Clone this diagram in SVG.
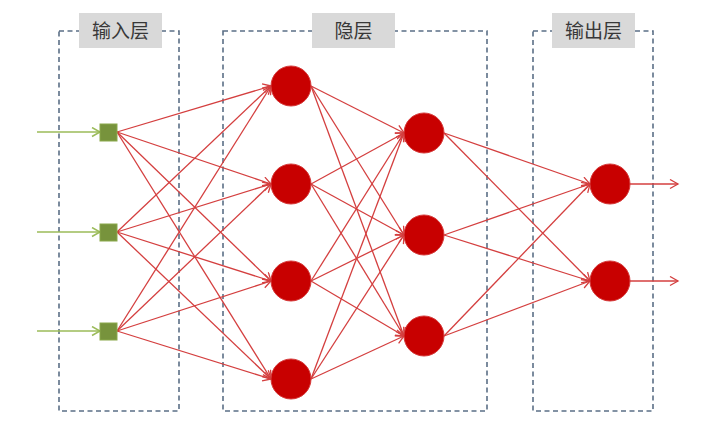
<svg xmlns="http://www.w3.org/2000/svg" width="720" height="429" viewBox="0 0 720 429">
<defs>
<style>
.box{fill:none;stroke:#5b6f86;stroke-width:1.6;stroke-dasharray:5 3.5}
.lbl{fill:#d9d9d9}
.lt{font-family:"Liberation Sans","Noto Sans CJK SC",sans-serif;font-size:19px;fill:#383838;text-anchor:middle}
.e{stroke:#d43f3f;stroke-width:1.3;fill:none;marker-end:url(#ar)}
.g{stroke:#9bbb59;stroke-width:1.5;fill:none;marker-end:url(#ag)}
.n{fill:#c80000;stroke:#d63a3a;stroke-width:1}
.sq{fill:#77933c;stroke:#8aa84a;stroke-width:1}
</style>
<marker id="ar" markerWidth="12" markerHeight="12" refX="9" refY="5" orient="auto" markerUnits="userSpaceOnUse">
<path d="M1,0.5 L9,5 L1,9.5" fill="none" stroke="#d43f3f" stroke-width="1.3"/>
</marker>
<marker id="ag" markerWidth="12" markerHeight="12" refX="9" refY="5" orient="auto" markerUnits="userSpaceOnUse">
<path d="M1,0.5 L9,5 L1,9.5" fill="none" stroke="#9bbb59" stroke-width="1.5"/>
</marker>
</defs>
<rect width="720" height="429" fill="#fff"/>
<g id="layer-boxes">
<rect class="box" x="59" y="31" width="120" height="380"/>
<rect class="box" x="223" y="31" width="264" height="380"/>
<rect class="box" x="533" y="31" width="120" height="380"/>
</g>
<g id="label-input"><rect class="lbl" x="79" y="13" width="83" height="35"/><text class="lt" x="120.5" y="37.5">输入层</text></g>
<g id="label-hidden"><rect class="lbl" x="312" y="13" width="83" height="35"/><text class="lt" x="353.5" y="37.5">隐层</text></g>
<g id="label-output"><rect class="lbl" x="552" y="13" width="83" height="35"/><text class="lt" x="593.5" y="37.5">输出层</text></g>
<g id="connectors">
<line class="g" x1="37" y1="132" x2="100" y2="132"/>
<line class="g" x1="37" y1="232" x2="100" y2="232"/>
<line class="g" x1="37" y1="331" x2="100" y2="331"/>
<line class="e" x1="117" y1="132" x2="271" y2="86"/>
<line class="e" x1="117" y1="132" x2="271" y2="184"/>
<line class="e" x1="117" y1="132" x2="271" y2="281"/>
<line class="e" x1="117" y1="132" x2="271" y2="379"/>
<line class="e" x1="117" y1="232" x2="271" y2="86"/>
<line class="e" x1="117" y1="232" x2="271" y2="184"/>
<line class="e" x1="117" y1="232" x2="271" y2="281"/>
<line class="e" x1="117" y1="232" x2="271" y2="379"/>
<line class="e" x1="117" y1="331" x2="271" y2="86"/>
<line class="e" x1="117" y1="331" x2="271" y2="184"/>
<line class="e" x1="117" y1="331" x2="271" y2="281"/>
<line class="e" x1="117" y1="331" x2="271" y2="379"/>
<line class="e" x1="311" y1="86" x2="404" y2="133"/>
<line class="e" x1="311" y1="86" x2="404" y2="235"/>
<line class="e" x1="311" y1="86" x2="404" y2="336"/>
<line class="e" x1="311" y1="184" x2="404" y2="133"/>
<line class="e" x1="311" y1="184" x2="404" y2="235"/>
<line class="e" x1="311" y1="184" x2="404" y2="336"/>
<line class="e" x1="311" y1="281" x2="404" y2="133"/>
<line class="e" x1="311" y1="281" x2="404" y2="235"/>
<line class="e" x1="311" y1="281" x2="404" y2="336"/>
<line class="e" x1="311" y1="379" x2="404" y2="133"/>
<line class="e" x1="311" y1="379" x2="404" y2="235"/>
<line class="e" x1="311" y1="379" x2="404" y2="336"/>
<line class="e" x1="444" y1="133" x2="590" y2="184"/>
<line class="e" x1="444" y1="133" x2="590" y2="281"/>
<line class="e" x1="444" y1="235" x2="590" y2="184"/>
<line class="e" x1="444" y1="235" x2="590" y2="281"/>
<line class="e" x1="444" y1="336" x2="590" y2="184"/>
<line class="e" x1="444" y1="336" x2="590" y2="281"/>
<line class="e" x1="630" y1="184" x2="678" y2="184"/>
<line class="e" x1="630" y1="281" x2="678" y2="281"/>
</g>
<g id="in1"><rect class="sq" x="100" y="124" width="17" height="17"/></g>
<g id="in2"><rect class="sq" x="100" y="224" width="17" height="17"/></g>
<g id="in3"><rect class="sq" x="100" y="323" width="17" height="17"/></g>
<g id="h1a"><circle class="n" cx="291" cy="86" r="20"/></g>
<g id="h1b"><circle class="n" cx="291" cy="184" r="20"/></g>
<g id="h1c"><circle class="n" cx="291" cy="281" r="20"/></g>
<g id="h1d"><circle class="n" cx="291" cy="379" r="20"/></g>
<g id="h2a"><circle class="n" cx="424" cy="133" r="20"/></g>
<g id="h2b"><circle class="n" cx="424" cy="235" r="20"/></g>
<g id="h2c"><circle class="n" cx="424" cy="336" r="20"/></g>
<g id="out1"><circle class="n" cx="610" cy="184" r="20"/></g>
<g id="out2"><circle class="n" cx="610" cy="281" r="20"/></g>
</svg>
